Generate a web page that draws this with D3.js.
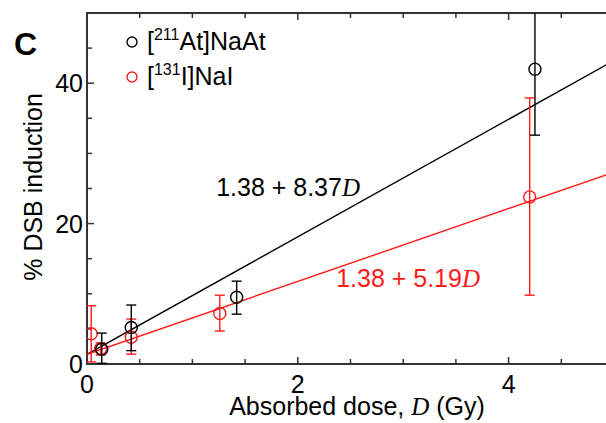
<!DOCTYPE html>
<html>
<head>
<meta charset="utf-8">
<script src="https://cdn.jsdelivr.net/npm/d3@7"></script>
<style>
  body { margin: 0; background: #fff; }
  text { font-family: Arial, "Liberation Sans", sans-serif; }
</style>
</head>
<body>
<div id="chart"></div>
<script>
// [211At]NaAt
const atDose = [0.14, 0.42, 1.42, 4.25];
const atDsb = [2.1, 5.2, 9.5, 42.0];
const atHigh = [4.4, 8.4, 11.8, 54];
const atLow = [0.1, 1.9, 7.1, 32.6];
// [131I]NaI
const iDose = [0.04, 0.13, 0.42, 1.26, 4.2];
const iDsb = [4.3, 2.2, 3.8, 7.2, 23.8];
const iHigh = [8.3, 3.0, 6.4, 9.8, 37.9];
const iLow = [0.3, 1.3, 1.4, 4.7, 9.8];
// fits
const atFit = { a: 1.38, b: 8.37 };
const iFit = { a: 1.38, b: 5.19 };
const xTicks = [0, 2, 4];
const yTicks = [0, 20, 40];

const width = 606;
const height = 423;
const margin = { top: 13, left: 87, bottom: 59, right: -8 };

const black = "#000";
const red = "#ff1a1a";
const fontSize = "25px";

const svg = d3.select("#chart").append("svg")
    .attr("width", width)
    .attr("height", height);

const x = d3.scaleLinear().domain([0, 5]).range([margin.left, width - margin.right]);
const y = d3.scaleLinear().domain([0, 50]).range([height - margin.bottom, margin.top]);

svg.append("defs").append("clipPath").attr("id", "plot")
    .append("rect")
    .attr("x", x(0)).attr("y", y(50))
    .attr("width", x(5) - x(0)).attr("height", y(0) - y(50));

// ticks (inward, on bottom, top and left)
const axisGroup = svg.append("g").attr("id", "axisGroup");
const minorX = d3.range(0, 5.01, 0.5);
const minorY = d3.range(0, 50.01, 5);
const tickLen = (major) => (major ? 7 : 5);

minorX.forEach((v) => {
    const major = v % 2 === 0;
    axisGroup.append("line").attr("x1", x(v)).attr("x2", x(v))
        .attr("y1", y(0)).attr("y2", y(0) - tickLen(major))
        .attr("stroke", "#333").attr("stroke-width", 1.5);
    axisGroup.append("line").attr("x1", x(v)).attr("x2", x(v))
        .attr("y1", y(50)).attr("y2", y(50) + tickLen(major))
        .attr("stroke", "#333").attr("stroke-width", 1.5);
});
minorY.forEach((v) => {
    const major = v % 20 === 0;
    axisGroup.append("line").attr("x1", x(0)).attr("x2", x(0) + tickLen(major))
        .attr("y1", y(v)).attr("y2", y(v))
        .attr("stroke", "#333").attr("stroke-width", 1.5);
});

// frame
axisGroup.append("path")
    .attr("d", `M${x(5) + 2},${y(50)}H${x(0)}V${y(0)}H${x(5) + 2}`)
    .attr("fill", "none")
    .attr("stroke", "#333")
    .attr("stroke-width", 2);

// tick labels
axisGroup.selectAll(".xl").data(xTicks).enter().append("text")
    .attr("x", (d) => x(d)).attr("y", y(0) + 29)
    .attr("text-anchor", "middle")
    .style("font-size", fontSize)
    .text((d) => d);
axisGroup.selectAll(".yl").data(yTicks).enter().append("text")
    .attr("x", x(0) - 4).attr("y", (d) => y(d) + 9)
    .attr("text-anchor", "end")
    .style("font-size", fontSize)
    .text((d) => d);

// axis titles
const xTitle = svg.append("text")
    .attr("x", 357).attr("y", 415)
    .attr("text-anchor", "middle")
    .style("font-size", fontSize);
xTitle.append("tspan").text("Absorbed dose, ");
xTitle.append("tspan").style("font-family", "'Liberation Serif', 'DejaVu Serif', serif")
    .style("font-style", "italic").text("D");
xTitle.append("tspan").text(" (Gy)");

svg.append("text")
    .attr("transform", "translate(42,187) rotate(-90)")
    .attr("text-anchor", "middle")
    .style("font-size", fontSize)
    .text("% DSB induction");

svg.append("text")
    .attr("x", 14).attr("y", 55)
    .style("font-size", "32px")
    .style("font-weight", "bold")
    .text("C");

// fit lines
const plot = svg.append("g").attr("clip-path", "url(#plot)");
const fitLine = d3.line().x((d) => x(d[0])).y((d) => y(d[1]));
[[atFit, black], [iFit, red]].forEach(([f, c]) => {
    plot.append("path")
        .attr("d", fitLine([[0, f.a], [5, f.a + f.b * 5]]))
        .attr("fill", "none").attr("stroke", c).attr("stroke-width", 1.4);
});

// error bars and points
function drawSeries(dose, val, hi, lo, color) {
    const g = plot.append("g");
    dose.forEach((d, i) => {
        g.append("line").attr("x1", x(d)).attr("x2", x(d))
            .attr("y1", y(hi[i])).attr("y2", y(lo[i]))
            .attr("stroke", color).attr("stroke-width", 1.4);
        [hi[i], lo[i]].forEach((v) => {
            g.append("line").attr("x1", x(d) - 5).attr("x2", x(d) + 5)
                .attr("y1", y(v)).attr("y2", y(v))
                .attr("stroke", color).attr("stroke-width", 1.4);
        });
        g.append("circle").attr("cx", x(d)).attr("cy", y(val[i])).attr("r", 6)
            .attr("fill", "none").attr("stroke", color).attr("stroke-width", 1.4);
    });
}
drawSeries(iDose, iDsb, iHigh, iLow, red);
drawSeries(atDose, atDsb, atHigh, atLow, black);

// equations
function equation(f, xEnd, yBase, color) {
    const t = svg.append("text")
        .attr("x", xEnd).attr("y", yBase)
        .attr("text-anchor", "end")
        .style("font-size", fontSize)
        .attr("fill", color);
    t.append("tspan").text(`${f.a} + ${f.b}`);
    t.append("tspan").style("font-family", "'Liberation Serif', 'DejaVu Serif', serif")
        .style("font-style", "italic").text("D");
}
equation(atFit, 360, 196, black);
equation(iFit, 480, 287, red);

// legend
const legend = svg.append("g");
[["211", "At]NaAt", black, 42], ["131", "I]NaI", red, 77]].forEach(([iso, rest, c, cy]) => {
    legend.append("circle").attr("cx", 132).attr("cy", cy).attr("r", 5)
        .attr("fill", "none").attr("stroke", c).attr("stroke-width", 1.4);
    const t = legend.append("text").attr("x", 147).attr("y", cy + 8)
        .style("font-size", fontSize);
    t.append("tspan").text("[");
    t.append("tspan").attr("dy", -10).style("font-size", "16px").text(iso);
    t.append("tspan").attr("dy", 10).text(rest);
});
</script>
</body>
</html>
